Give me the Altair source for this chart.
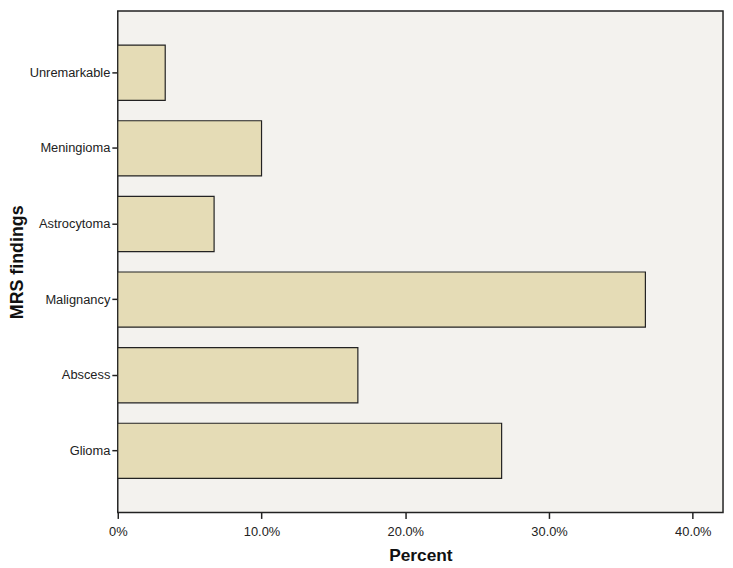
import altair as alt
import pandas as pd

categories = ["Unremarkable", "Meningioma", "Astrocytoma", "Malignancy", "Abscess", "Glioma"]
percent = [3.3, 10.0, 6.7, 36.7, 16.7, 26.7]
x_ticks = [0, 10, 20, 30, 40]

df = pd.DataFrame({"finding": categories, "percent": percent})

chart = alt.Chart(df).mark_bar(
    fill="#e5dcb6", stroke="#222222", strokeWidth=1.2
).encode(
    x=alt.X("percent:Q", title="Percent",
            scale=alt.Scale(domain=[0, 42.1], nice=False, zero=True),
            axis=alt.Axis(values=x_ticks,
                          labelExpr="datum.value == 0 ? '0%' : format(datum.value, '.1f') + '%'",
                          labelFlush=False,
                          grid=False, domain=False, tickSize=6, tickColor="#222222",
                          tickWidth=1.5,
                          labelFont="Liberation Sans", labelFontSize=13, labelColor="#222222",
                          labelPadding=7,
                          titleFont="Liberation Sans", titleFontSize=17.5, titleFontWeight="bold",
                          titleColor="#111111", titlePadding=9)),
    y=alt.Y("finding:N", title="MRS findings", sort=categories,
            scale=alt.Scale(paddingInner=0.27, paddingOuter=0.45),
            axis=alt.Axis(domain=False, tickSize=6, tickColor="#222222", tickWidth=1.5,
                          labelFont="Liberation Sans", labelFontSize=13, labelColor="#222222",
                          labelPadding=2,
                          titleFont="Liberation Sans", titleFontSize=18, titleFontWeight="bold",
                          titleColor="#111111", titlePadding=3)),
).properties(
    width=612, height=507,
    padding={"left": 111, "top": 0, "right": 2, "bottom": 52},
    autosize=alt.AutoSizeParams(type="none"),
    background="white",
).configure_view(
    fill="#f3f2ee", stroke="#222222", strokeWidth=1.5
)

chart.save("out.html", embed_options={"renderer": "svg", "actions": False})
